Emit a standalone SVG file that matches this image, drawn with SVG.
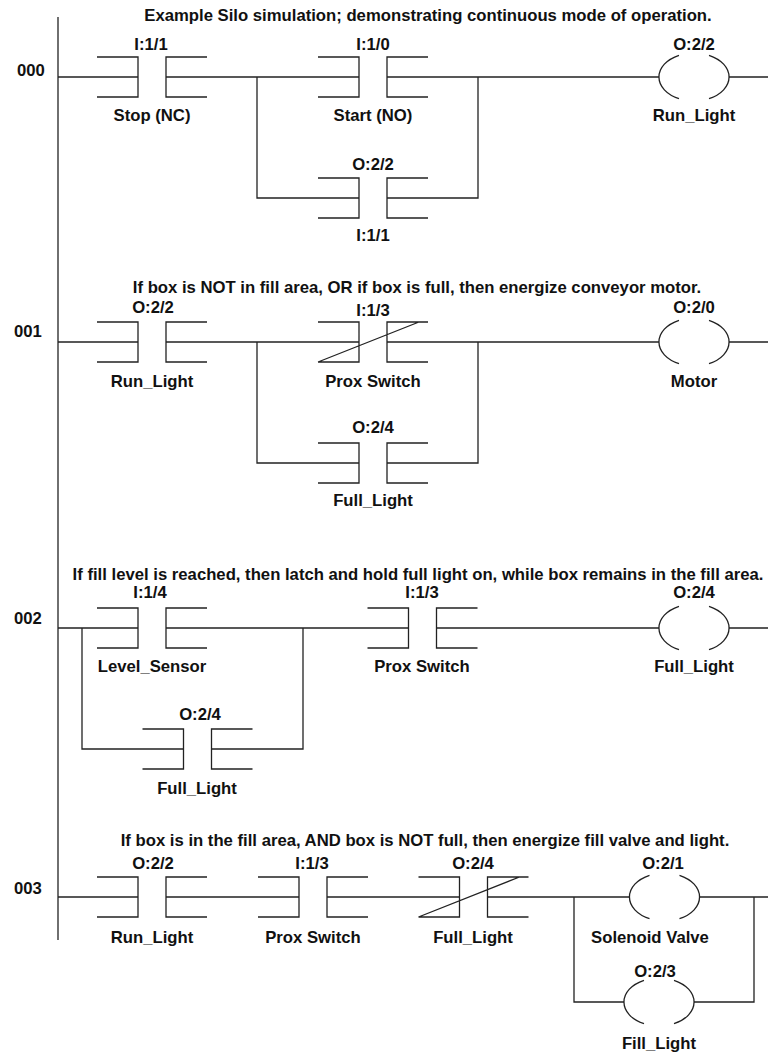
<svg xmlns="http://www.w3.org/2000/svg" xmlns:xlink="http://www.w3.org/1999/xlink" width="768" height="1055" viewBox="0 0 768 1055">
<style>
text{font-family:"Liberation Sans",Arial,sans-serif;font-weight:bold;font-size:16.7px;fill:#111;text-anchor:middle}
.num{text-anchor:start}
.w{fill:none;stroke:#222;stroke-width:1.3}
</style>
<defs>
<path id="no" class="w" d="M-55,-20H-14V20H-55M55,-20H14V20H55"/>
<path id="nc" class="w" d="M-55,-20H-14V20H-55M55,-20H14V20H55M-55,20L46,-20"/>
<path id="coil" class="w" d="M-15,-21.7A35,24 0 0,0 -15,21.7M15,-21.7A35,24 0 0,1 15,21.7"/>
</defs>
<rect width="768" height="1055" fill="#fff"/>
<g id="connectors" class="w">
<path d="M58,17V940"/>
<path d="M58,77H138M166,77H359M387,77H659M729,77H768M257,77V198H359M387,198H478V77"/>
<path d="M58,342H138M166,342H359M387,342H659M729,342H768M257,342V463H359M387,463H478V342"/>
<path d="M58,628H138M166,628H408M437,628H659M729,628H768M82,628V749H183M212,749H303V628"/>
<path d="M58,897H138M166,897H299M327,897H460M487,897H630M699,897H768M574,897V1002H624M694,1002H754V897"/>
</g>
<g id="titles">
<text x="428" y="21">Example Silo simulation; demonstrating continuous mode of operation.</text>
<text x="417" y="293">If box is NOT in fill area, OR if box is full, then energize conveyor motor.</text>
<text x="418" y="580">If fill level is reached, then latch and hold full light on, while box remains in the fill area.</text>
<text x="425" y="846">If box is in the fill area, AND box is NOT full, then energize fill valve and light.</text>
</g>
<g id="rung-numbers">
<text class="num" x="17" y="76">000</text>
<text class="num" x="14" y="337">001</text>
<text class="num" x="14" y="624">002</text>
<text class="num" x="14" y="894">003</text>
</g>
<g id="r000-stop"><use xlink:href="#no" href="#no" x="152" y="77"/><text x="151" y="50">I:1/1</text><text x="152" y="121">Stop (NC)</text></g>
<g id="r000-start"><use href="#no" x="373" y="77"/><text x="373" y="50">I:1/0</text><text x="373" y="121">Start (NO)</text></g>
<g id="r000-seal"><use href="#no" x="373" y="198"/><text x="373" y="170">O:2/2</text><text x="373" y="241">I:1/1</text></g>
<g id="r000-coil"><use href="#coil" x="694" y="77"/><text x="694" y="50">O:2/2</text><text x="694" y="121">Run_Light</text></g>

<g id="r001-run"><use href="#no" x="152" y="342"/><text x="153" y="313">O:2/2</text><text x="152" y="387">Run_Light</text></g>
<g id="r001-prox"><use href="#nc" x="373" y="342"/><text x="373" y="316">I:1/3</text><text x="373" y="387">Prox Switch</text></g>
<g id="r001-full"><use href="#no" x="373" y="463"/><text x="373" y="433">O:2/4</text><text x="373" y="506">Full_Light</text></g>
<g id="r001-coil"><use href="#coil" x="694" y="342"/><text x="694" y="313">O:2/0</text><text x="694" y="387">Motor</text></g>

<g id="r002-level"><use href="#no" x="152" y="628"/><text x="150" y="598">I:1/4</text><text x="152" y="672">Level_Sensor</text></g>
<g id="r002-latch"><use href="#no" x="197.5" y="749"/><text x="200" y="720">O:2/4</text><text x="197" y="794">Full_Light</text></g>
<g id="r002-prox"><use href="#no" x="422.5" y="628"/><text x="422" y="598">I:1/3</text><text x="422" y="672">Prox Switch</text></g>
<g id="r002-coil"><use href="#coil" x="694" y="628"/><text x="694" y="598">O:2/4</text><text x="694" y="672">Full_Light</text></g>

<g id="r003-run"><use href="#no" x="152" y="897"/><text x="153" y="869">O:2/2</text><text x="152" y="943">Run_Light</text></g>
<g id="r003-prox"><use href="#no" x="313" y="897"/><text x="312" y="869">I:1/3</text><text x="313" y="943">Prox Switch</text></g>
<g id="r003-full"><use href="#nc" x="473.5" y="897"/><text x="473" y="869">O:2/4</text><text x="473" y="943">Full_Light</text></g>
<g id="r003-valve"><use href="#coil" x="664.5" y="897"/><text x="663" y="869">O:2/1</text><text x="650" y="943">Solenoid Valve</text></g>
<g id="r003-filllight"><use href="#coil" x="659" y="1002"/><text x="655" y="977">O:2/3</text><text x="659" y="1049">Fill_Light</text></g>
</svg>
